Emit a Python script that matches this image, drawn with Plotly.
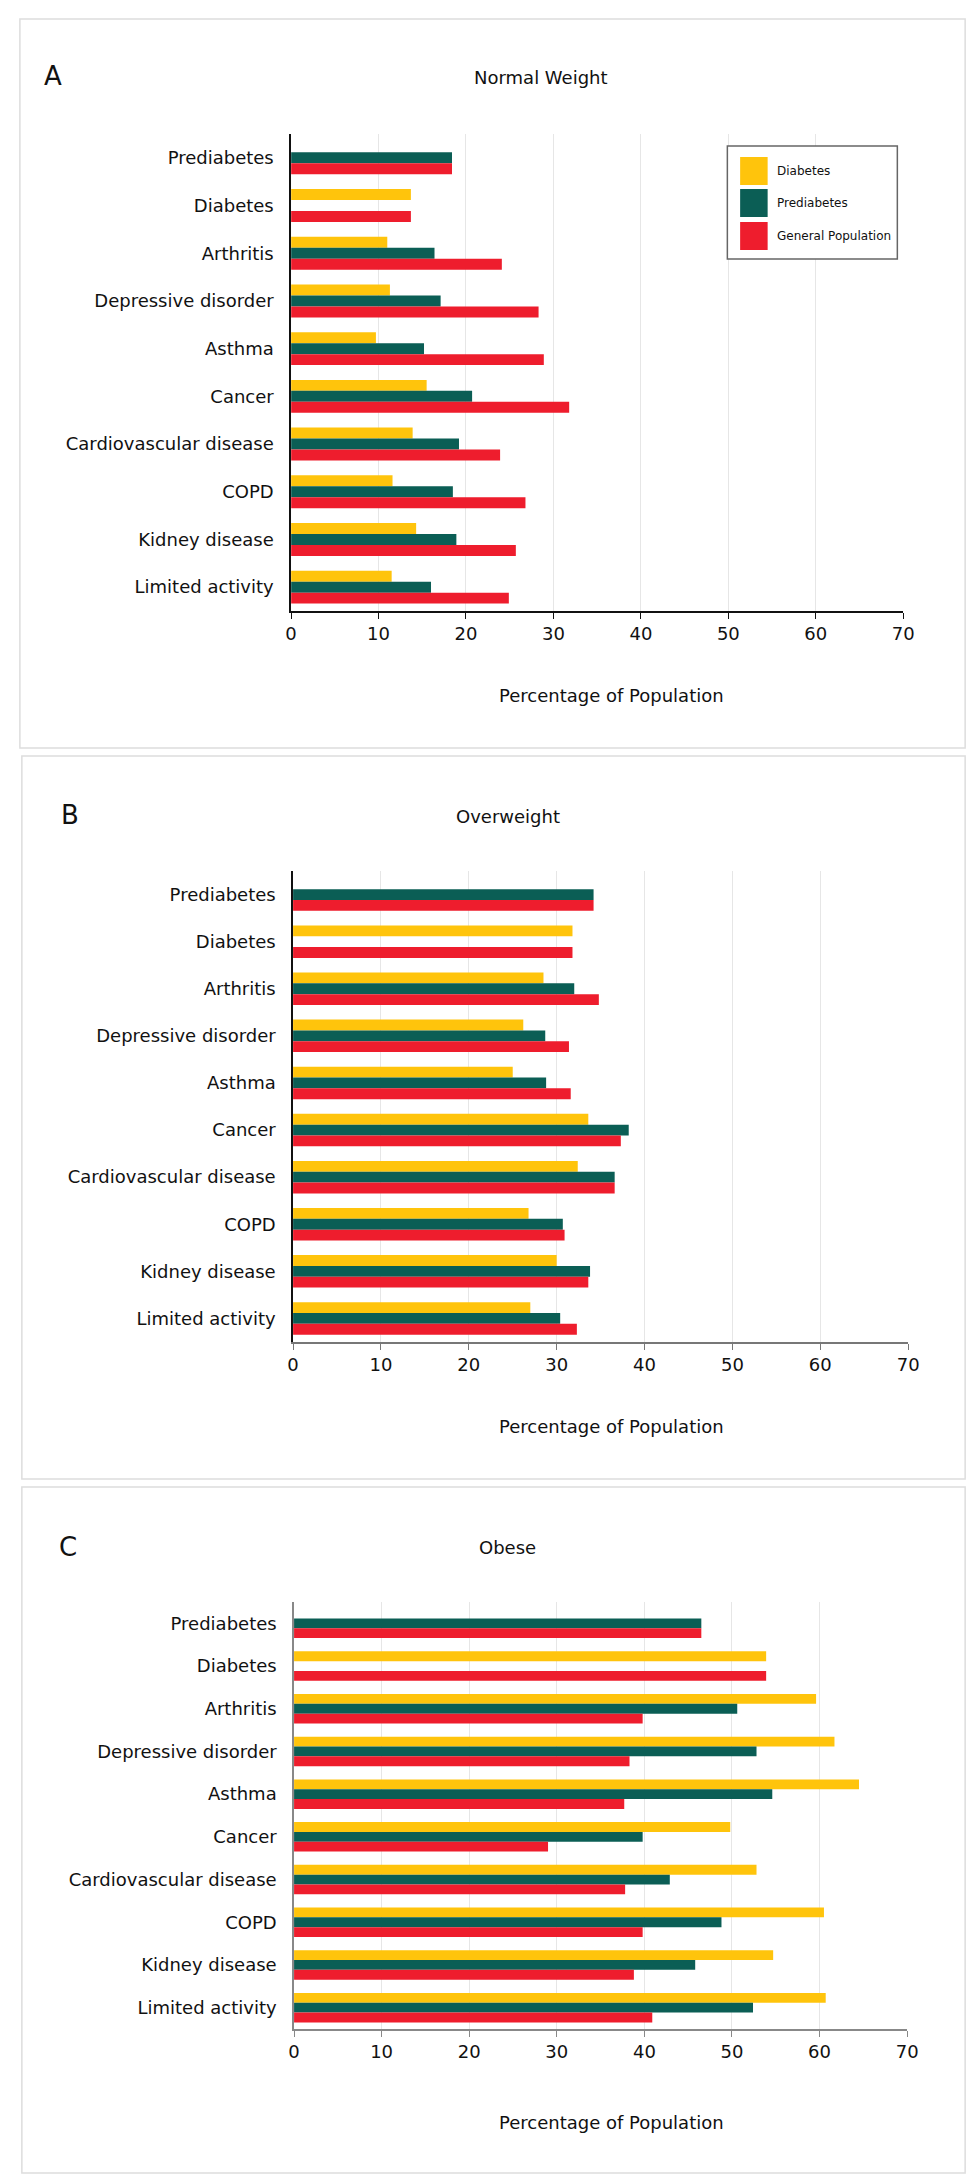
import plotly.graph_objects as go

W, H = 976, 2179

categories = ["Prediabetes", "Diabetes", "Arthritis", "Depressive disorder", "Asthma",
              "Cancer", "Cardiovascular disease", "COPD", "Kidney disease", "Limited activity"]
series_names = ["Diabetes", "Prediabetes", "General Population"]
x_ticks = [0, 10, 20, 30, 40, 50, 60, 70]

# Normal weight
diabetes_nw = [None, 13.7, 11.0, 11.3, 9.7, 15.5, 13.9, 11.6, 14.3, 11.5]
prediabetes_nw = [18.4, None, 16.4, 17.1, 15.2, 20.7, 19.2, 18.5, 18.9, 16.0]
general_nw = [18.4, 13.7, 24.1, 28.3, 28.9, 31.8, 23.9, 26.8, 25.7, 24.9]

# Overweight
diabetes_ow = [None, 31.8, 28.5, 26.2, 25.0, 33.6, 32.4, 26.8, 30.0, 27.0]
prediabetes_ow = [34.2, None, 32.0, 28.7, 28.8, 38.2, 36.6, 30.7, 33.8, 30.4]
general_ow = [34.2, 31.8, 34.8, 31.4, 31.6, 37.3, 36.6, 30.9, 33.6, 32.3]

# Obese
diabetes_ob = [None, 53.9, 59.6, 61.7, 64.5, 49.8, 52.8, 60.5, 54.7, 60.7]
prediabetes_ob = [46.5, None, 50.6, 52.8, 54.6, 39.8, 42.9, 48.8, 45.8, 52.4]
general_ob = [46.5, 53.9, 39.8, 38.3, 37.7, 29.0, 37.8, 39.8, 38.8, 40.9]

colors = ["#FFC40C", "#0B5E55", "#EE1D2D"]
FONT = "DejaVu Sans"

def px(x):
    return x / W

def py(y):
    return 1 - y / H

panels = [
    dict(letter="A", title="Normal Weight", data=[diabetes_nw, prediabetes_nw, general_nw],
         xd=(282, 905), yd=(126, 603), box=(6, 11, 968, 740),
         letter_pos=(28, 68), title_pos=(536, 70), xtitle_pos=(608, 687),
         xline="#111", yline="#111"),
    dict(letter="B", title="Overweight", data=[diabetes_ow, prediabetes_ow, general_ow],
         xd=(284, 910), yd=(863, 1334), box=(8, 748, 968, 1471),
         letter_pos=(46, 807), title_pos=(503, 808), xtitle_pos=(608, 1418),
         xline="#777", yline="#111"),
    dict(letter="C", title="Obese", data=[diabetes_ob, prediabetes_ob, general_ob],
         xd=(285, 909), yd=(1594, 2021), box=(8, 1479, 968, 2165),
         letter_pos=(44, 1539), title_pos=(502, 1539), xtitle_pos=(608, 2114),
         xline="#888", yline="#888"),
]

fig = go.Figure()
shapes = []
annotations = []

for i, p in enumerate(panels):
    sfx = "" if i == 0 else str(i + 1)
    for j, name in enumerate(series_names):
        fig.add_trace(go.Bar(
            x=p["data"][j], y=categories, orientation="h", name=name,
            marker=dict(color=colors[j], line=dict(width=0)),
            xaxis="x" + sfx, yaxis="y" + sfx, showlegend=False,
        ))
    fig.update_layout(**{
        "xaxis" + sfx: dict(
            domain=[px(p["xd"][0]), px(p["xd"][1])], anchor="y" + sfx,
            range=[0, 70], tickvals=x_ticks, showgrid=True, gridcolor="#e6e6e6", gridwidth=1,
            zeroline=False, showline=True, linecolor=p["xline"], linewidth=1.5,
            ticks="outside", ticklen=6, tickcolor=p["xline"], tickwidth=1,
            tickfont=dict(family=FONT, size=18, color="#111"), fixedrange=True,
        ),
        "yaxis" + sfx: dict(
            domain=[py(p["yd"][1]), py(p["yd"][0])], anchor="x" + sfx,
            type="category", categoryorder="array", categoryarray=categories,
            autorange="reversed", showgrid=False, zeroline=False,
            showline=True, linecolor=p["yline"], linewidth=1.5, ticks="",
            ticklabelstandoff=12,
            tickfont=dict(family=FONT, size=18, color="#111"), fixedrange=True,
        ),
    })
    x0, y0, x1, y1 = p["box"]
    shapes.append(dict(type="rect", xref="paper", yref="paper",
                       x0=px(x0), x1=px(x1), y0=py(y1), y1=py(y0),
                       line=dict(color="#dddddd", width=1.5), layer="below"))
    annotations.append(dict(text=p["letter"], xref="paper", yref="paper",
                            x=px(p["letter_pos"][0]), y=py(p["letter_pos"][1]),
                            xanchor="left", yanchor="middle", showarrow=False,
                            font=dict(family=FONT, size=26, color="#111")))
    annotations.append(dict(text=p["title"], xref="paper", yref="paper",
                            x=px(p["title_pos"][0]), y=py(p["title_pos"][1]),
                            xanchor="center", yanchor="middle", showarrow=False,
                            font=dict(family=FONT, size=18, color="#111")))
    annotations.append(dict(text="Percentage of Population", xref="paper", yref="paper",
                            x=px(p["xtitle_pos"][0]), y=py(p["xtitle_pos"][1]),
                            xanchor="center", yanchor="middle", showarrow=False,
                            font=dict(family=FONT, size=18, color="#111")))

# Legend (panel A), drawn with shapes and text
shapes.append(dict(type="rect", xref="paper", yref="paper",
                   x0=px(726), x1=px(899), y0=py(251), y1=py(138),
                   line=dict(color="#666666", width=1.5), fillcolor="white"))
legend_rows = [(149, 177), (181, 209), (214, 242)]
for (ya, yb), name, c in zip(legend_rows, series_names, colors):
    shapes.append(dict(type="rect", xref="paper", yref="paper",
                       x0=px(739), x1=px(767), y0=py(yb), y1=py(ya),
                       line=dict(width=0), fillcolor=c))
    annotations.append(dict(text=name, xref="paper", yref="paper",
                            x=px(774), y=py((ya + yb) / 2), xanchor="left", yanchor="middle",
                            showarrow=False, font=dict(family=FONT, size=12, color="#111")))

fig.update_layout(
    width=W, height=H, margin=dict(l=0, r=0, t=0, b=0),
    paper_bgcolor="white", plot_bgcolor="white",
    barmode="group", bargap=0.31, bargroupgap=0,
    shapes=shapes, annotations=annotations,
    font=dict(family=FONT, color="#111"),
    showlegend=False,
)

fig.write_html("out.html")
